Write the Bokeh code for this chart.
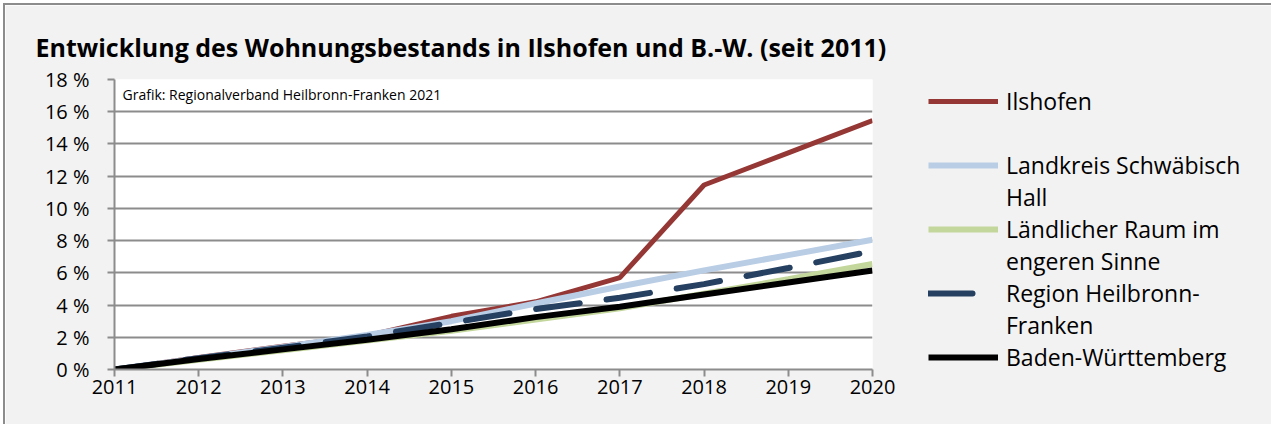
from bokeh.plotting import figure
from bokeh.models import (FixedTicker, PrintfTickFormatter, Legend, LegendItem,
                          Label, Range1d, Title)
from bokeh.embed import file_html
from bokeh.resources import INLINE

years = [2011, 2012, 2013, 2014, 2015, 2016, 2017, 2018, 2019, 2020]
ilshofen = [0.0, 0.75, 1.45, 2.1, 3.3, 4.2, 5.7, 11.45, 13.45, 15.45]
landkreis_sha = [0.0, 0.7, 1.4, 2.15, 3.0, 4.1, 5.15, 6.15, 7.1, 8.05]
laendlicher_raum = [0.0, 0.6, 1.2, 1.8, 2.4, 3.1, 3.8, 4.7, 5.6, 6.55]
region_hnf = [0.0, 0.7, 1.35, 2.05, 2.9, 3.75, 4.45, 5.3, 6.3, 7.35]
baden_wuerttemberg = [0.0, 0.65, 1.25, 1.85, 2.5, 3.25, 3.9, 4.65, 5.4, 6.15]
y_ticks = [0, 2, 4, 6, 8, 10, 12, 14, 16, 18]
# legend text, wrapped as in the original (first line, continuation line)
series_labels = [("Ilshofen", " "), ("Landkreis Schwäbisch", "Hall"),
                 ("Ländlicher Raum im", "engeren Sinne"),
                 ("Region Heilbronn-", "Franken"), ("Baden-Württemberg", None)]

FONT = "Open Sans"

p = figure(width=1262, height=419, frame_width=758, frame_height=290,
           min_border_left=109, min_border_top=74, min_border_right=395,
           min_border_bottom=55,
           x_range=Range1d(2011, 2020), y_range=Range1d(0, 18),
           output_backend="svg", toolbar_location=None,
           background_fill_color="white", border_fill_color="#f2f2f2")
p.margin = (5, 0, 0, 5)
p.styles = {"outline": "2px solid #8c8c8c"}
p.outline_line_color = None

title = Title(text="Entwicklung des Wohnungsbestands in Ilshofen und B.-W. (seit 2011)",
              text_font=FONT, text_font_size="25px", text_font_style="bold",
              text_color="black", align="left", offset=-79, standoff=32)
p.add_layout(title, "above")

# axes
p.xaxis.ticker = FixedTicker(ticks=years)
p.yaxis.ticker = FixedTicker(ticks=y_ticks)
p.yaxis.formatter = PrintfTickFormatter(format="%d %%")
for ax in (p.xaxis[0], p.yaxis[0]):
    ax.axis_line_color = "#8c8c8c"
    ax.axis_line_width = 2
    ax.major_tick_line_color = "#8c8c8c"
    ax.major_tick_line_width = 2
    ax.major_tick_out = 7
    ax.major_tick_in = 0
    ax.minor_tick_line_color = None
    ax.major_label_text_font = FONT
    ax.major_label_text_font_size = "20px"
    ax.major_label_text_color = "black"
p.yaxis.major_label_standoff = 18
p.xaxis.major_label_standoff = 3

p.xgrid.grid_line_color = None
p.ygrid.grid_line_color = "#8c8c8c"
p.ygrid.grid_line_width = 2

r_il = p.line(years, ilshofen, line_color="#953735", line_width=5)
r_lk = p.line(years, landkreis_sha, line_color="#b9cde5", line_width=6)
r_lr = p.line(years, laendlicher_raum, line_color="#c3d69b", line_width=6)
r_rg = p.line(years, region_hnf, line_color="#254061", line_width=6,
              line_dash="44 27", line_cap="round")
r_bw = p.line(years, baden_wuerttemberg, line_color="black", line_width=6)
# invisible renderer used only for the wrapped (glyph-less) legend lines
r_blank = p.line(years, baden_wuerttemberg, line_alpha=0)

items = []
for (first, cont), r in zip(series_labels, [r_il, r_lk, r_lr, r_rg, r_bw]):
    items.append(LegendItem(label=first, renderers=[r]))
    if cont is not None:
        items.append(LegendItem(label=cont, renderers=[r_blank]))

legend = Legend(items=items, location=(56, -4), margin=0, padding=0, spacing=0,
                glyph_width=70, glyph_height=32, label_height=32, label_standoff=8,
                label_text_font=FONT, label_text_font_size="23px",
                label_text_color="black", background_fill_alpha=0,
                border_line_color=None, inactive_fill_alpha=0)
p.add_layout(legend, "right")

p.add_layout(Label(x=8, y=275, x_units="screen", y_units="screen",
                   text="Grafik: Regionalverband Heilbronn-Franken 2021",
                   text_font=FONT, text_font_size="14px", text_color="black",
                   text_baseline="middle"))

open("out.html", "w").write(file_html(p, INLINE))
